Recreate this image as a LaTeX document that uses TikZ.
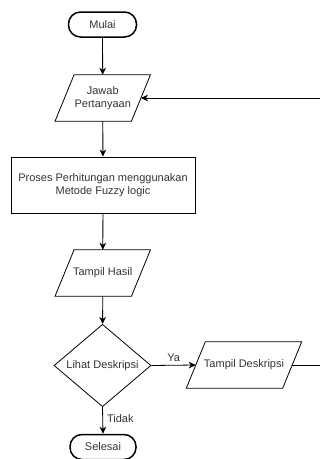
\documentclass[tikz,border=0pt]{standalone}
\usepackage{fontspec}
\setmainfont{Liberation Sans}
\usetikzlibrary{shapes.geometric,arrows.meta}
\definecolor{txt}{rgb}{0.2,0.2,0.2}
\tikzset{
  base/.style={font=\fontsize{11}{13.5}\selectfont, align=center, inner sep=0pt, text=txt},
  terminal/.style={base, draw, line width=1.5pt, rounded corners=12pt, minimum width=68pt, minimum height=25pt},
  iobox/.style={base, minimum width=76pt, minimum height=46pt},
  procbox/.style={base, draw, line width=0.8pt, minimum width=184pt, minimum height=56pt},
  decision/.style={base, draw, line width=0.8pt, shape=diamond, minimum width=97pt, minimum height=65pt},
  flow/.style={line width=0.8pt, -{Stealth[length=7pt,width=6.5pt,inset=2pt]}},
  lbl/.style={base},
}
\begin{document}
\begin{tikzpicture}[x=1pt,y=-1pt]
\useasboundingbox (0,0) rectangle (320,459);
\clip (0,0) rectangle (320,459);
\node[terminal] (mulai) at (102.5,24.5) {Mulai};
\node[iobox] (jawab) at (102.75,98) {Jawab\\Pertanyaan};
\node[procbox] (proses) at (103,185) {Proses Perhitungan menggunakan\\Metode Fuzzy logic};
\node[iobox] (hasil) at (102.75,273) {Tampil Hasil};
\node[decision] (lihat) at (102.5,365.5) {Lihat Deskripsi};
\node[iobox, minimum width=96pt] (desk) at (244,365) {Tampil Deskripsi};
\node[terminal, minimum width=66pt] (selesai) at (103,447) {Selesai};
\coordinate (turnA) at (330,365);
\coordinate (turnB) at (330,98);
% parallelogram outlines
\foreach \n in {jawab,hasil,desk}{
  \draw[line width=0.8pt] ([xshift=9.5pt]\n.north west) -- ([xshift=9.5pt]\n.north east)
    -- ([xshift=-9.5pt]\n.south east) -- ([xshift=-9.5pt]\n.south west) -- cycle;
}
\draw[flow] (mulai) -- (jawab);
\draw[flow] (jawab) -- (proses);
\draw[flow] (proses) -- (hasil);
\draw[flow] (hasil) -- (lihat);
\draw[flow] (lihat.east) -- node[lbl, above=3pt] {Ya} (desk.west);
\draw[flow] (lihat.south) -- node[lbl, right=4pt, pos=0.42] {Tidak} (selesai.north);
\draw[flow] (desk.east) -- (turnA) -- (turnB) -- (jawab.east);
\end{tikzpicture}
\end{document}
